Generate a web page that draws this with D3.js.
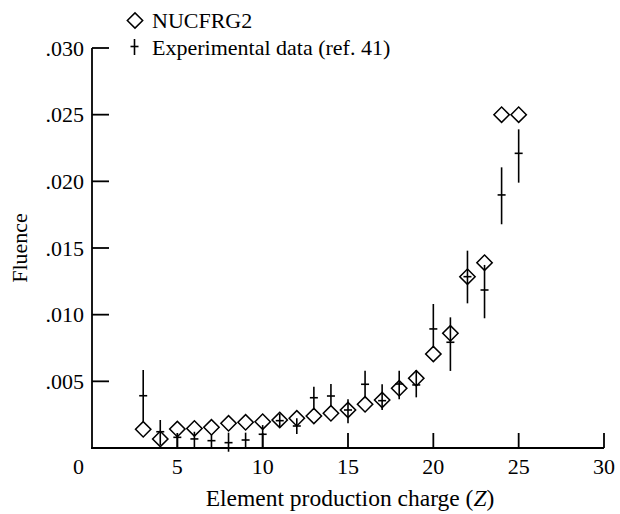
<!DOCTYPE html>
<html>
<head>
<meta charset="utf-8">
<script src="https://cdn.jsdelivr.net/npm/d3@7"></script>
<style>
  body { margin: 0; background: #fff; }
  svg { display: block; }
  svg text { font-family: "Times New Roman", Times, "Liberation Serif", "Nimbus Roman", "Noto Serif", "DejaVu Serif", serif; }
</style>
</head>
<body>
<svg id="graph"></svg>
<script>
var width = 620
var height = 514

// element charge Z
var charges = [3,4,5,6,7,8,9,10,11,12,13,14,15,16,17,18,19,20,21,22,23,24,25]
// NUCFRG2 calculation
var nucfrg2 = [.0014,.00068,.00142,.00147,.00155,.00185,.00193,.00197,.0021,.00223,.0024,.0026,
               .00285,.00328,.0036,.00448,.00523,.00705,.0086,.01285,.0139,.025,.025]
// experimental data (ref. 41): value, bar low end, bar high end
var expVal = [.00392,.00122,.0008,.00068,.00055,.0004,.0006,.00103,.00205,.00165,.00377,.0039,
              .00285,.00478,.00355,.0048,.00473,.00893,.00793,.01285,.01185,.01898,.0221]
var expLo  = [.00197,.00022,0,0,0,-.00028,0,0,.00155,.00105,.00285,.0031,
              .00185,.00373,.00285,.00365,.0038,.0075,.00578,.01085,.00973,.01678,.0199]
var expHi  = [.00585,.0021,.001,.00122,.00098,.00115,.00115,.00172,.00255,.00223,.0046,.0048,
              .00365,.0058,.00478,.0058,.00585,.0108,.0098,.0148,.01373,.02105,.0239]

var xTicks = [5,10,15,20,25,30]
var yTicks = [.005,.010,.015,.020,.025,.030]
var yTickLabels = [".005",".010",".015",".020",".025",".030"]

var xScale = d3.scaleLinear().domain([0, 30]).range([92, 604])
var yScale = d3.scaleLinear().domain([0, .030]).range([448, 48])

var svg = d3.select("#graph")
  .attr("width", width)
  .attr("height", height)

// axes drawn as plain lines + inward ticks
var axes = svg.append("g")
  .attr("stroke", "#000")
  .attr("stroke-width", 1.8)
  .attr("fill", "none")

axes.append("line")
  .attr("x1", xScale(0)).attr("x2", xScale(0))
  .attr("y1", yScale(.030)).attr("y2", yScale(0) + 0.9)
axes.append("line")
  .attr("x1", xScale(0) - 0.9).attr("x2", xScale(30))
  .attr("y1", yScale(0)).attr("y2", yScale(0))

axes.selectAll("line.yt")
  .data(yTicks)
  .enter().append("line")
  .attr("class", "yt")
  .attr("x1", xScale(0)).attr("x2", xScale(0) + 17)
  .attr("y1", function(d) {return yScale(d)})
  .attr("y2", function(d) {return yScale(d)})

axes.selectAll("line.xt")
  .data(xTicks)
  .enter().append("line")
  .attr("class", "xt")
  .attr("x1", function(d) {return xScale(d)})
  .attr("x2", function(d) {return xScale(d)})
  .attr("y1", yScale(0)).attr("y2", yScale(0) - 15)

svg.selectAll("text.ytl")
  .data(yTicks)
  .enter().append("text")
  .attr("class", "ytl")
  .attr("x", 84)
  .attr("y", function(d) {return yScale(d) + 7.5})
  .attr("text-anchor", "end")
  .attr("font-size", 22)
  .text(function(d, i) {return yTickLabels[i]})

svg.append("text")
  .attr("x", 84).attr("y", 474)
  .attr("text-anchor", "end")
  .attr("font-size", 22)
  .text("0")

svg.selectAll("text.xtl")
  .data(xTicks)
  .enter().append("text")
  .attr("class", "xtl")
  .attr("x", function(d) {return xScale(d)})
  .attr("y", 474)
  .attr("text-anchor", "middle")
  .attr("font-size", 22)
  .text(function(d) {return d})

// axis titles
svg.append("text")
  .attr("transform", "translate(27," + yScale(.015) + ") rotate(-90)")
  .attr("text-anchor", "middle")
  .attr("font-size", 22)
  .text("Fluence")

var xt = svg.append("text")
  .attr("x", 350).attr("y", 506)
  .attr("text-anchor", "middle")
  .attr("font-size", 23.5)
xt.append("tspan").text("Element production charge (")
xt.append("tspan").attr("font-style", "italic").text("Z")
xt.append("tspan").text(")")

// experimental error bars
var expData = charges.map(function(z, i) {return {z: z, v: expVal[i], lo: expLo[i], hi: expHi[i]}})
var bars = svg.append("g").attr("stroke", "#000").attr("stroke-width", 1.6)
bars.selectAll("line.bar")
  .data(expData)
  .enter().append("line")
  .attr("x1", function(d) {return xScale(d.z)})
  .attr("x2", function(d) {return xScale(d.z)})
  .attr("y1", function(d) {return yScale(d.hi)})
  .attr("y2", function(d) {return yScale(d.lo)})
bars.selectAll("line.mid")
  .data(expData)
  .enter().append("line")
  .attr("x1", function(d) {return xScale(d.z) - 4})
  .attr("x2", function(d) {return xScale(d.z) + 4})
  .attr("y1", function(d) {return yScale(d.v)})
  .attr("y2", function(d) {return yScale(d.v)})

// NUCFRG2 diamonds
var diamond = d3.symbol().type(d3.symbolSquare).size(118)
svg.append("g")
  .selectAll("path")
  .data(charges)
  .enter().append("path")
  .attr("d", diamond)
  .attr("transform", function(z, i) {return "translate(" + xScale(z) + "," + yScale(nucfrg2[i]) + ") rotate(45)"})
  .attr("fill", "none")
  .attr("stroke", "#000")
  .attr("stroke-width", 1.5)

// legend
var legend = svg.append("g")
legend.append("path")
  .attr("d", diamond)
  .attr("transform", "translate(135,20.5) rotate(45)")
  .attr("fill", "none").attr("stroke", "#000").attr("stroke-width", 1.5)
legend.append("text").attr("x", 152).attr("y", 27.5).attr("font-size", 22).text("NUCFRG2")
legend.append("line")
  .attr("x1", 134.5).attr("x2", 134.5).attr("y1", 39).attr("y2", 55)
  .attr("stroke", "#000").attr("stroke-width", 1.6)
legend.append("line")
  .attr("x1", 130.5).attr("x2", 138.5).attr("y1", 46.5).attr("y2", 46.5)
  .attr("stroke", "#000").attr("stroke-width", 1.6)
legend.append("text").attr("x", 152).attr("y", 54.5).attr("font-size", 22).text("Experimental data (ref. 41)")
</script>
</body>
</html>
